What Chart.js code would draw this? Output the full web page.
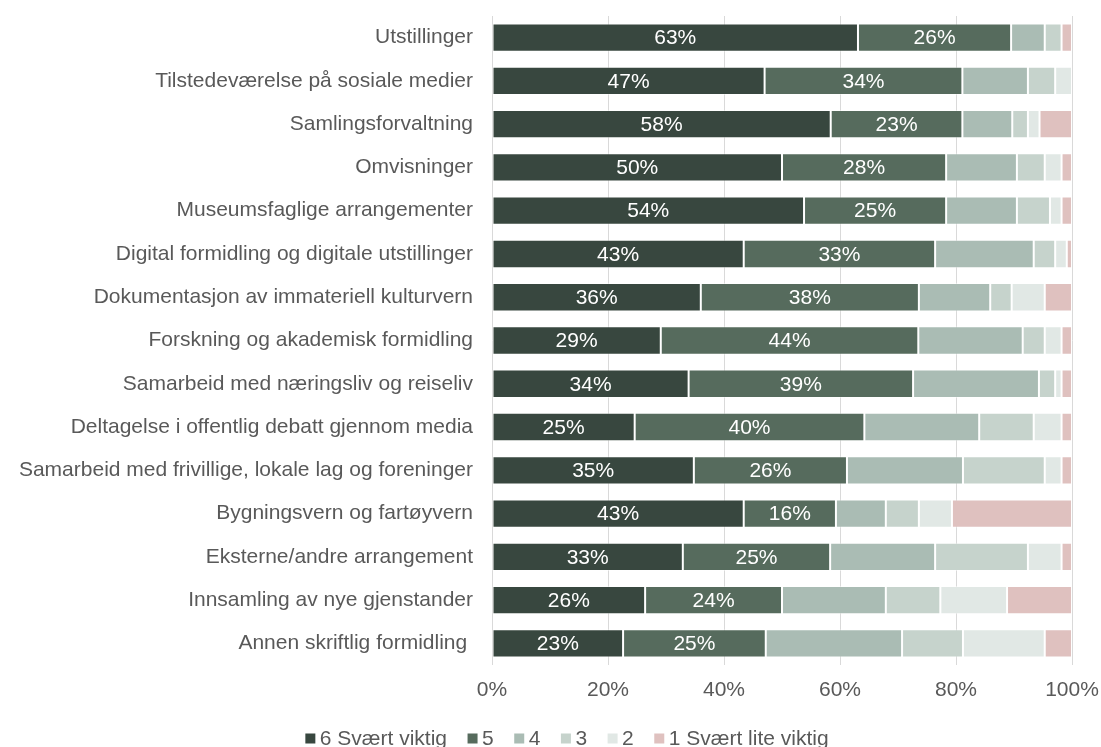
<!DOCTYPE html>
<html>
<head>
<meta charset="utf-8">
<script src="https://cdn.jsdelivr.net/npm/chart.js@4/dist/chart.umd.min.js"></script>
<style>
html,body{margin:0;padding:0;background:#fff;}
#wrap{width:1101px;height:747px;position:relative;}
</style>
</head>
<body>
<div id="wrap"><canvas id="c"></canvas></div>
<script>
const categories = [
  "Utstillinger",
  "Tilstedeværelse på sosiale medier",
  "Samlingsforvaltning",
  "Omvisninger",
  "Museumsfaglige arrangementer",
  "Digital formidling og digitale utstillinger",
  "Dokumentasjon av immateriell kulturvern",
  "Forskning og akademisk formidling",
  "Samarbeid med næringsliv og reiseliv",
  "Deltagelse i offentlig debatt gjennom media",
  "Samarbeid med frivillige, lokale lag og foreninger",
  "Bygningsvern og fartøyvern",
  "Eksterne/andre arrangement",
  "Innsamling av nye gjenstander",
  "Annen skriftlig formidling "
];
const seriesNames = ["6 Svært viktig", "5", "4", "3", "2", "1 Svært lite viktig"];
const s6 = [63.1, 47.0, 58.4, 50.0, 53.8, 43.4, 36.0, 29.1, 33.9, 24.6, 34.8, 43.4, 32.9, 26.4, 22.6];
const s5 = [26.4, 34.1, 22.7, 28.3, 24.5, 33.0, 37.6, 44.4, 38.7, 39.6, 26.4, 15.9, 25.4, 23.6, 24.6];
const s4 = [5.8, 11.3, 8.6, 12.2, 12.2, 17.0, 12.3, 18.0, 21.7, 19.8, 20.0, 8.6, 18.1, 17.9, 23.5];
const s3 = [2.9, 4.7, 2.7, 4.8, 5.7, 3.7, 3.7, 3.8, 2.8, 9.4, 14.1, 5.7, 16.0, 9.4, 10.5];
const s2 = [0.0, 2.9, 2.0, 2.9, 2.0, 2.0, 5.7, 2.9, 1.1, 4.8, 2.9, 5.7, 5.8, 11.5, 14.1];
const s1 = [1.8, 0.0, 5.6, 1.8, 1.8, 0.9, 4.7, 1.8, 1.8, 1.8, 1.8, 20.7, 1.8, 11.2, 4.7];
const xTickLabels = ["0%", "20%", "40%", "60%", "80%", "100%"];

const colors = ["#38473f", "#566b5d", "#aabcb4", "#c6d3cc", "#e1e8e5", "#dfc1bf"];
const FONT = '"Liberation Sans", Arial, sans-serif';
const seriesValues = [s6, s5, s4, s3, s2, s1];

const datasets = seriesValues.map((vals, i) => ({
  label: seriesNames[i],
  data: vals,
  backgroundColor: colors[i],
  borderColor: 'rgba(255,255,255,0.45)',
  borderWidth: 1,
  borderSkipped: false,
  categoryPercentage: 1,
  barPercentage: 0.655,
  showValue: i < 2
}));

const valueLabels = {
  id: 'valueLabels',
  afterDatasetsDraw(chart) {
    const ctx = chart.ctx;
    ctx.save();
    ctx.font = '21px ' + FONT;
    ctx.fillStyle = '#ffffff';
    ctx.textAlign = 'center';
    ctx.textBaseline = 'middle';
    chart.data.datasets.forEach((ds, di) => {
      if (!ds.showValue) return;
      const meta = chart.getDatasetMeta(di);
      meta.data.forEach((bar, j) => {
        const v = ds.data[j];
        const cx = (bar.x + bar.base) / 2;
        ctx.fillText(Math.round(v) + '%', cx, bar.y + 1);
      });
    });
    ctx.restore();
  }
};

const customLegend = {
  id: 'customLegend',
  afterDraw(chart) {
    const ctx = chart.ctx;
    ctx.save();
    ctx.font = '21px ' + FONT;
    ctx.textBaseline = 'middle';
    ctx.textAlign = 'left';
    const box = 10, gap = 4.5, spacing = 20.5;
    const items = chart.data.datasets.map(ds => ({
      text: ds.label, color: ds.backgroundColor, w: ctx.measureText(ds.label).width
    }));
    const total = items.reduce((s, it) => s + box + gap + it.w, 0) + spacing * (items.length - 1);
    let x = 567 - total / 2;
    const y = 738.5;
    items.forEach(it => {
      ctx.fillStyle = it.color;
      ctx.fillRect(x, y - box / 2, box, box);
      ctx.fillStyle = '#595959';
      ctx.fillText(it.text, x + box + gap, y + 1);
      x += box + gap + it.w + spacing;
    });
    ctx.restore();
  }
};

new Chart(document.getElementById('c'), {
  type: 'bar',
  data: { labels: categories, datasets },
  options: {
    indexAxis: 'y',
    responsive: true,
    maintainAspectRatio: false,
    devicePixelRatio: 1,
    animation: false,
    layout: { padding: { left: 0, right: 29, top: 16, bottom: 42 } },
    plugins: {
      legend: { display: false },
      tooltip: { enabled: false }
    },
    scales: {
      x: {
        stacked: true,
        min: 0,
        max: 100,
        ticks: {
          stepSize: 20,
          padding: 13,
          color: '#595959',
          font: { size: 21, family: FONT },
          callback: (v) => xTickLabels[Math.round(v / 20)]
        },
        grid: { color: '#d9d9d9', lineWidth: 1, drawTicks: false },
        border: { display: false },
        afterFit: (s) => { s.height = 40; s.paddingLeft = 0; s.paddingRight = 0; }
      },
      y: {
        stacked: true,
        ticks: {
          autoSkip: false,
          padding: 19,
          color: '#595959',
          font: { size: 21, family: FONT }
        },
        grid: { display: false, drawTicks: false },
        border: { display: false },
        afterFit: (s) => { s.width = 492; s.paddingTop = 0; s.paddingBottom = 0; }
      }
    }
  },
  plugins: [valueLabels, customLegend]
});
</script>
</body>
</html>
